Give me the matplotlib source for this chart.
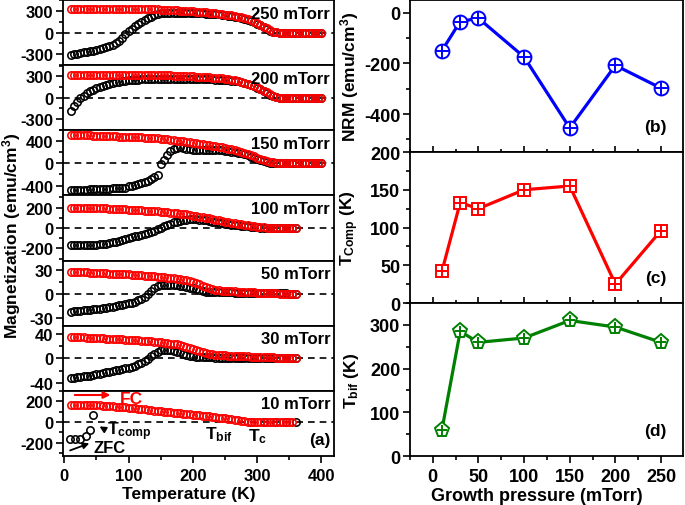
import matplotlib.pyplot as plt
from matplotlib.ticker import MultipleLocator

plt.rcParams['font.family'] = 'Liberation Sans'
plt.rcParams['font.weight'] = 'bold'
plt.rcParams['axes.labelweight'] = 'bold'
plt.rcParams['axes.unicode_minus'] = False
plt.rcParams['mathtext.fontset'] = 'custom'
plt.rcParams['mathtext.rm'] = 'Liberation Sans:bold'
plt.rcParams['mathtext.bf'] = 'Liberation Sans:bold'
plt.rcParams['mathtext.it'] = 'Liberation Sans:bold'
plt.rcParams['mathtext.default'] = 'bf'

# ---- data: M(T) curves, (a) ----
T_long = [10, 15, 20, 25, 30, 35, 40, 45, 50, 55,
          60, 65, 70, 75, 80, 85, 90, 95, 100, 105,
          110, 115, 120, 125, 130, 135, 140, 145, 150, 155,
          160, 165, 170, 175, 180, 185, 190, 195, 200, 205,
          210, 215, 220, 225, 230, 235, 240, 245, 250, 255,
          260, 265, 270, 275, 280, 285, 290, 295, 300, 305,
          310, 315, 320, 325, 330, 335, 340, 345, 350, 355,
          360, 365, 370, 375, 380, 385, 390, 395, 400]
T_short = T_long[:71]

fc_250 = [332, 332, 331, 331, 331, 330, 330, 330, 330, 329,
          329, 329, 328, 328, 328, 327, 327, 326, 326, 325,
          325, 324, 324, 323, 322, 321, 320, 319, 318, 316,
          314, 312, 310, 307, 304, 301, 298, 295, 292, 289,
          286, 282, 278, 274, 270, 266, 261, 255, 249, 243,
          237, 229, 220, 210, 198, 184, 167, 148, 126, 103,
          80, 58, 30, 10, 3, 1, 0, 0, 0, 0,
          0, 0, 0, 0, 0, 0, 0, 0, 0]
zfc_250 = [-309, -300, -290, -280, -272, -265, -258, -250, -243, -232,
           -218, -200, -185, -165, -142, -115, -75, -25, 15, 55,
           90, 120, 150, 175, 195, 215, 238, 255, 268, 275,
           277, 277, 276, 275, 274, 273, 272, 271, 270, 268,
           266, 264, 262, 260, 257, 254, 250, 245, 240, 235,
           228, 222, 214, 205, 194, 180, 163, 144, 122, 100,
           77, 52, 25, 8, 2, 0, 0, 0, 0, 0,
           0, 0, 0, 0, 0, 0, 0, 0, 0]

fc_200 = [322, 322, 322, 322, 322, 321, 321, 321, 321, 321,
          320, 320, 320, 320, 320, 320, 320, 320, 320, 319,
          319, 319, 319, 318, 318, 318, 318, 317, 317, 316,
          315, 314, 313, 311, 309, 307, 305, 302, 300, 298,
          296, 293, 290, 287, 284, 280, 276, 272, 268, 262,
          256, 248, 240, 228, 215, 200, 182, 164, 145, 123,
          100, 75, 50, 28, 10, 3, 1, 0, 0, 0,
          0, 0, 0, 0, 0, 0, 0, 0, 0]
zfc_200 = [-190, -110, -57, -10, 30, 60, 88, 112, 132, 150,
           165, 180, 195, 208, 218, 226, 233, 239, 244, 248,
           252, 255, 258, 261, 263, 265, 267, 268, 269, 270,
           270, 270, 270, 270, 269, 269, 268, 268, 267, 266,
           265, 264, 262, 260, 258, 256, 254, 251, 248, 244,
           240, 235, 230, 222, 212, 198, 180, 162, 143, 122,
           98, 70, 43, 20, 6, 1, 0, 0, 0, 0,
           0, 0, 0, 0, 0, 0, 0, 0, 0]

fc_150 = [517, 516, 514, 513, 511, 509, 507, 505, 503, 500,
          497, 495, 493, 491, 489, 487, 485, 483, 481, 479,
          477, 474, 471, 468, 465, 461, 457, 452, 447, 441,
          435, 428, 421, 414, 406, 398, 390, 382, 374, 366,
          357, 348, 339, 330, 320, 311, 301, 290, 279, 267,
          253, 239, 224, 208, 190, 170, 148, 126, 104, 85,
          68, 50, 33, 19, 9, 4, 1, 0, 0, 0,
          0, 0, 0, 0, 0, 0, 0, 0, 0]
zfc_150 = [-483, -481, -479, -477, -475, -473, -471, -469, -467, -464,
           -461, -458, -455, -452, -449, -446, -443, -440, -410, -400,
           -390, -375, -360, -340, -310, -280, -245, -210, -2, 60,
           150, 220, 260, 285, 290, 286, 260, 255, 250, 248,
           246, 245, 244, 243, 242, 240, 238, 235, 230, 224,
           215, 205, 195, 185, 170, 150, 125, 100, 80, 60,
           42, 25, 12, 4, 1, 0, 0, 0, 0, 0,
           0, 0, 0, 0, 0, 0, 0, 0, 0]

fc_100 = [200, 200, 199, 199, 198, 198, 197, 196, 195, 194,
          193, 192, 190, 189, 187, 186, 184, 183, 181, 180,
          178, 176, 174, 172, 169, 167, 165, 163, 160, 157,
          154, 151, 148, 145, 142, 138, 133, 128, 122, 116,
          110, 105, 99, 94, 88, 83, 77, 71, 64, 58,
          52, 46, 40, 35, 30, 26, 22, 17, 12, 9,
          6, 4, 3, 2, 1, 0, 0, 0, 0, 0,
          0]
zfc_100 = [-170, -170, -169, -169, -168, -168, -167, -166, -164, -161,
           -158, -153, -148, -141, -133, -124, -115, -107, -98, -90,
           -82, -74, -65, -55, -45, -35, -25, -10, 5, 18,
           32, 44, 55, 64, 72, 77, 82, 84, 85, 84,
           82, 79, 75, 69, 63, 58, 52, 47, 42, 37,
           33, 29, 25, 21, 18, 15, 12, 9, 6, 4,
           3, 2, 1, 0, 0, 0, 0, 0, 0, 0,
           0]

fc_50 = [27.9, 27.7, 27.6, 27.4, 27.2, 27.1, 26.9, 26.8, 26.6, 26.4,
         26.2, 26.0, 25.7, 25.5, 25.3, 25.1, 24.9, 24.7, 24.5, 24.3,
         24.1, 23.8, 23.5, 23.2, 22.8, 22.4, 22.0, 21.6, 21.2, 20.8,
         20.4, 20.0, 19.5, 19.0, 18.4, 17.8, 17.0, 16.0, 15.0, 13.8,
         12.5, 10.5, 8.5, 7.0, 5.8, 5.1, 4.5, 4.2, 4.0, 3.8,
         3.5, 3.2, 3.0, 2.8, 2.6, 2.4, 2.2, 2.0, 1.8, 1.6,
         1.4, 1.2, 1.0, 0.8, 0.7, 0.5, 0.4, 0.3, 0.2, 0.2,
         0.1]
zfc_50 = [-22.3, -21.9, -21.5, -21.1, -20.7, -20.2, -19.8, -19.3, -18.9, -18.4,
          -17.9, -17.3, -16.6, -15.8, -15.0, -14.2, -13.4, -12.6, -11.7, -10.8,
          -9.5, -8.0, -6.0, -3.5, 0.5, 4.0, 7.5, 9.5, 11.0, 11.6,
          11.8, 11.7, 11.5, 11.0, 10.5, 9.6, 8.6, 7.8, 7.0, 5.8,
          4.5, 3.3, 2.5, 2.2, 2.0, 2.0, 2.0, 2.0, 2.0, 1.9,
          1.9, 1.8, 1.8, 1.7, 1.7, 1.6, 1.6, 1.5, 1.5, 1.4,
          1.3, 1.2, 1.0, 0.9, 0.8, 0.7, 0.6, 0.6, 0.5, 0.5,
          0.5]

fc_30 = [34.9, 34.7, 34.5, 34.2, 34.0, 33.8, 33.5, 33.3, 33.0, 32.8,
         32.5, 32.2, 31.9, 31.6, 31.3, 31.0, 30.7, 30.4, 30.1, 29.8,
         29.4, 29.0, 28.6, 28.2, 27.8, 27.4, 26.9, 26.4, 25.9, 25.3,
         24.7, 24.0, 23.3, 22.5, 21.6, 20.5, 19.2, 17.2, 15.0, 13.2,
         11.5, 10.0, 8.5, 7.4, 6.5, 5.8, 5.3, 5.0, 4.7, 4.4,
         4.2, 3.9, 3.7, 3.4, 3.2, 3.0, 2.8, 2.6, 2.4, 2.2,
         2.0, 1.8, 1.6, 1.5, 1.3, 1.2, 1.0, 0.9, 0.8, 0.7,
         0.6]
zfc_30 = [-31.8, -31.3, -30.8, -30.2, -29.6, -28.8, -28.0, -27.2, -26.3, -25.3,
          -24.2, -23.1, -22.0, -20.9, -19.8, -18.7, -17.6, -16.4, -15.0, -13.6,
          -12.0, -10.0, -7.5, -4.5, -1.0, 3.5, 7.5, 11.0, 13.3, 13.6,
          13.6, 13.2, 12.3, 11.0, 9.5, 7.8, 6.0, 4.5, 3.2, 2.5,
          2.0, 1.7, 1.5, 1.4, 1.4, 1.3, 1.3, 1.3, 1.2, 1.2,
          1.2, 1.1, 1.1, 1.1, 1.0, 1.0, 1.0, 1.0, 1.0, 0.9,
          0.9, 0.9, 0.9, 0.9, 0.8, 0.8, 0.8, 0.8, 0.8, 0.8,
          0.8]

fc_10 = [165, 165, 164, 164, 163, 163, 162, 161, 160, 159,
         157, 155, 153, 151, 148, 146, 143, 140, 137, 134,
         131, 128, 124, 121, 117, 114, 110, 107, 104, 100,
         97, 94, 90, 87, 83, 80, 76, 73, 70, 66,
         63, 60, 56, 53, 49, 45, 41, 37, 33, 29,
         25, 20, 15, 10, 5, 2, 1, 0, 0, 0,
         0, 0, 0, 0, 0, 0, 0, 0, 0, 0]
T_fc_10 = T_short[:70]
T_zfc_10 = [9, 17, 25, 33, 40, 45, 290, 310, 330, 345, 360]
zfc_10 = [-162, -162, -162, -133, -76, 67, 0, 0, 0, 0, 0]

# ---- data: right panels (b)-(d) ----
pressure = [10, 30, 50, 100, 150, 200, 250]
nrm = [-150, -35, -22, -175, -455, -208, -298]
t_comp = [42, 133, 125, 150, 155, 25, 96]
t_bif = [60, 285, 260, 270, 310, 295, 260]

fig = plt.figure(figsize=(6.85, 5.06), dpi=100)

# left column: 7 stacked panels
panels = [
    ('250 mTorr', T_long, fc_250, T_long, zfc_250, (-450, 450), 300),
    ('200 mTorr', T_long, fc_200, T_long, zfc_200, (-460, 460), 300),
    ('150 mTorr', T_long, fc_150, T_long, zfc_150, (-580, 600), 400),
    ('100 mTorr', T_short, fc_100, T_short, zfc_100, (-320, 320), 200),
    ('50 mTorr', T_short, fc_50, T_short, zfc_50, (-40, 42), 30),
    ('30 mTorr', T_short, fc_30, T_short, zfc_30, (-53, 53), 40),
    ('10 mTorr', T_fc_10, fc_10, T_zfc_10, zfc_10, (-330, 300), 200),
]

left, width = 0.092, 0.396
bottom, top = 0.0968, 0.998
h = (top - bottom) / len(panels)

for i, (name, tf, fc, tz, zfc, ylim, step) in enumerate(panels):
    ax = fig.add_axes([left, top - (i + 1) * h, width, h])
    ax.axhline(0, color='black', ls=(0, (4, 3)), lw=1.2, zorder=1)
    ax.plot(tz, zfc, 'o', ms=5.3, mfc='none', mec='black', mew=1.15, zorder=2)
    ax.plot(tf, fc, 'o', ms=5.3, mfc='none', mec='red', mew=1.15, zorder=3)
    ax.set_xlim(-2, 420)
    ax.set_ylim(*ylim)
    ax.yaxis.set_major_locator(MultipleLocator(step))
    ax.yaxis.set_minor_locator(MultipleLocator(step / 2))
    ax.xaxis.set_major_locator(MultipleLocator(100))
    ax.xaxis.set_minor_locator(MultipleLocator(50))
    ax.tick_params(axis='y', which='both', direction='out', left=True, right=False,
                   labelsize=12, width=1.2, pad=2)
    ax.tick_params(axis='y', which='major', length=5)
    ax.tick_params(axis='y', which='minor', length=3)
    last = (i == len(panels) - 1)
    ax.tick_params(axis='x', which='both', direction='out', bottom=last, top=False,
                   labelbottom=last, labelsize=12, width=1.2)
    ax.tick_params(axis='x', which='major', length=5)
    ax.tick_params(axis='x', which='minor', length=3)
    for sp in ax.spines.values():
        sp.set_linewidth(1.3)
    ax.text(0.985, 0.80, name, transform=ax.transAxes, ha='right', va='center',
            fontsize=12)
    if last:
        ax.annotate('', xy=(76, 260), xytext=(12, 260),
                    arrowprops=dict(arrowstyle='-|>', color='red', lw=1.5,
                                    mutation_scale=10))
        ax.text(86, 222, 'FC', color='red', fontsize=12.5, va='center')
        ax.annotate('', xy=(51, -30), xytext=(66, -85),
                    arrowprops=dict(arrowstyle='-|>', color='black', lw=1.3,
                                    mutation_scale=9))
        ax.text(67, -82, 'T$_{comp}$', fontsize=12.5, va='center')
        ax.annotate('', xy=(43, -198), xytext=(5, -285),
                    arrowprops=dict(arrowstyle='-|>', color='black', lw=1.3,
                                    mutation_scale=9))
        ax.text(46, -246, 'ZFC', fontsize=12, va='center')
        ax.text(219, -112, 'T$_{bif}$', fontsize=12.5, va='center')
        ax.text(286, -135, 'T$_{c}$', fontsize=12.5, va='center')
        ax.text(0.985, 0.25, '(a)', transform=ax.transAxes, ha='right',
                va='center', fontsize=12.5)

fig.text(0.0165, 0.535, 'Magnetization (emu/cm$^3$)', rotation=90,
         ha='center', va='center', fontsize=12.5)
fig.text(0.276, 0.022, 'Temperature (K)', ha='center', va='center', fontsize=12.5)

# right column: (b) NRM, (c) T_comp, (d) T_bif
rleft, rwidth = 0.5985, 0.3985
rb = [0.6976, 0.3992, 0.0968]
rt = [0.998, 0.6976, 0.3992]
right_panels = [
    (nrm, 'blue', 'o', 10, 10, 'NRM (emu/cm$^3$)', (-550, 50), 200, '(b)'),
    (t_comp, 'red', 's', 9, 9, 'T$_{Comp}$ (K)', (0, 200), 50, '(c)'),
    (t_bif, '#008000', 'p', 11, 7, 'T$_{bif}$ (K)', (0, 350), 100, '(d)'),
]

for j, (vals, col, mk, ms, pms, ylab, ylim, step, tag) in enumerate(right_panels):
    ax = fig.add_axes([rleft, rb[j], rwidth, rt[j] - rb[j]])
    ax.plot(pressure, vals, '-', color=col, lw=2.3, marker=mk, ms=ms,
            mfc='white', mec=col, mew=1.4, clip_on=False)
    ax.plot(pressure, vals, ls='none', marker='+', ms=pms, mec=col, mew=1.4,
            clip_on=False)
    ax.set_xlim(-25, 274)
    ax.set_ylim(*ylim)
    ax.xaxis.set_major_locator(MultipleLocator(50))
    ax.xaxis.set_minor_locator(MultipleLocator(25))
    ax.yaxis.set_major_locator(MultipleLocator(step))
    ax.yaxis.set_minor_locator(MultipleLocator(step / 2))
    last = (j == 2)
    ax.tick_params(axis='x', which='both', direction='out' if last else 'inout',
                   top=False, labelbottom=last, labelsize=13, width=1.2)
    ax.tick_params(axis='x', which='major', length=5 if last else 9)
    ax.tick_params(axis='x', which='minor', length=3 if last else 5)
    ax.tick_params(axis='y', which='both', direction='out', right=False,
                   labelsize=13, width=1.2, pad=2)
    ax.tick_params(axis='y', which='major', length=5)
    ax.tick_params(axis='y', which='minor', length=3)
    for sp in ax.spines.values():
        sp.set_linewidth(1.3)
    ax.set_ylabel(ylab, fontsize=12.5)
    ax.yaxis.set_label_coords(-0.18, 0.5)
    ax.text(0.94, 0.17, tag, transform=ax.transAxes, ha='right', va='center',
            fontsize=12.5)

fig.text(0.784, 0.018, 'Growth pressure (mTorr)', ha='center', va='center',
         fontsize=13)

fig.savefig('out.png', dpi=100)
